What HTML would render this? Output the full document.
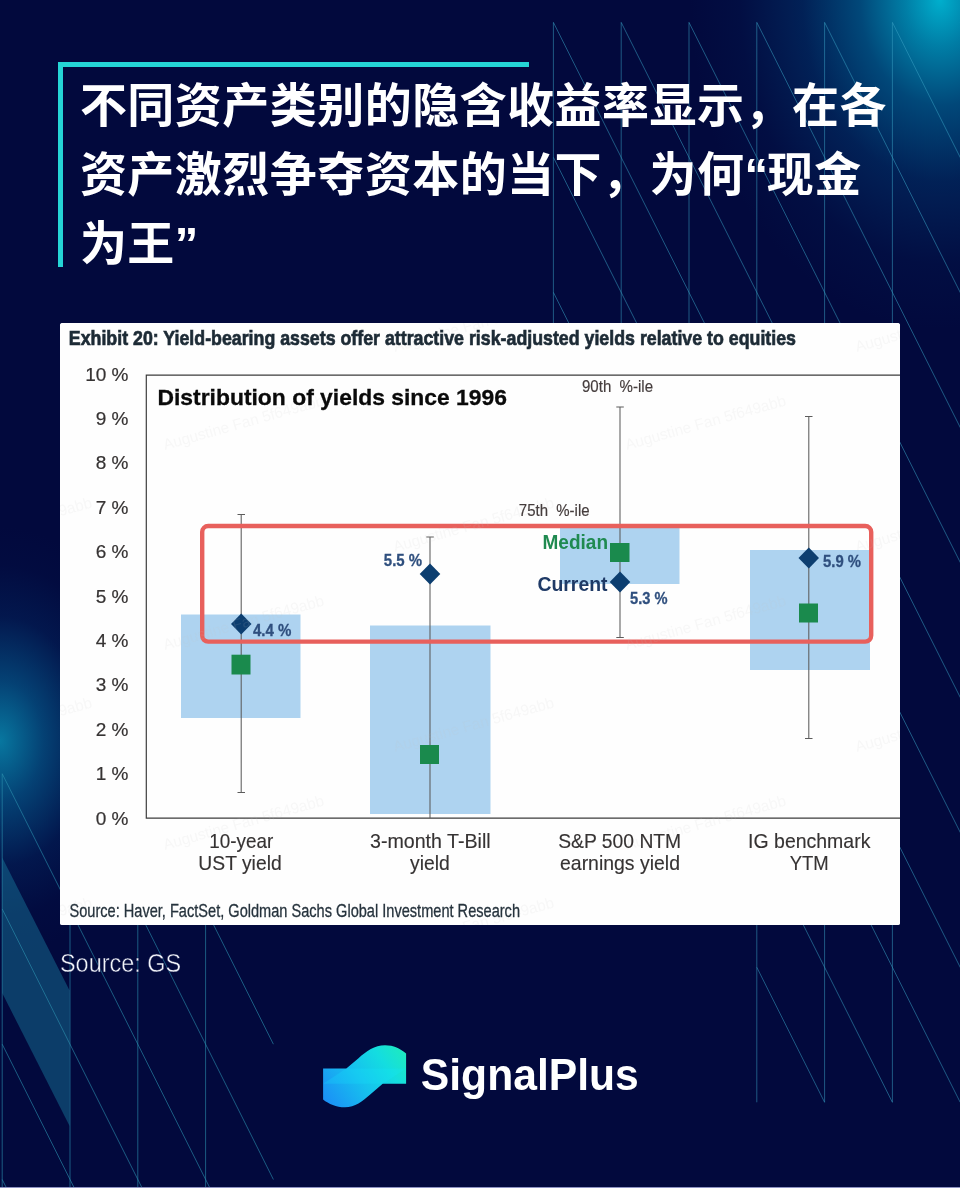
<!DOCTYPE html>
<html lang="zh-CN">
<head>
<meta charset="utf-8">
<title>SignalPlus</title>
<style>
html,body{margin:0;padding:0;}
body{width:960px;height:1188px;overflow:hidden;background:#02093d;position:relative;font-family:"Liberation Sans","Noto Sans CJK SC",sans-serif;}
#bg{position:absolute;left:0;top:0;width:960px;height:1188px;
 background:
  radial-gradient(ellipse 250px 330px at 940px 0px, rgba(0,178,208,.98) 0%, rgba(0,155,192,.8) 14%, rgba(0,125,172,.54) 32%, rgba(0,95,152,.28) 55%, rgba(0,65,125,.09) 80%, rgba(0,60,120,0) 100%),
  radial-gradient(ellipse 155px 215px at 0px 741px, rgba(8,125,165,.95) 0%, rgba(6,100,150,.62) 28%, rgba(4,60,120,.28) 58%, rgba(2,40,100,.08) 82%, rgba(2,30,90,0) 100%),
  #02093d;}
#lines{position:absolute;left:0;top:0;}
#title{position:absolute;left:58px;top:62px;width:471px;height:205px;border-top:5px solid #25d5d6;border-left:5px solid #25d5d6;box-sizing:border-box;}
#title h1{position:absolute;left:16.9px;top:3.5px;width:880px;margin:0;font-weight:700;font-size:47px;letter-spacing:.47px;line-height:69px;color:#fff;white-space:nowrap;font-family:"Liberation Sans","Noto Sans CJK SC",sans-serif;}
#card{position:absolute;left:60px;top:323px;width:840px;height:602px;background:#fff;border-radius:2.5px;overflow:hidden;}
#card svg{position:absolute;left:0;top:0;display:block;}
#logo{position:absolute;left:0;top:0;}
#bottomline{position:absolute;left:0;top:1187px;width:960px;height:1px;background:#8d92c2;}
</style>
</head>
<body>
<div id="bg"></div>
<svg id="lines" width="960" height="1188" viewBox="0 0 960 1188">
<path d="M553.4 22.4L553.4 600.0 M621.2 22.4L621.2 600.0 M689.0 22.4L689.0 600.0 M756.8 22.4L756.8 1102.3 M824.6 22.4L824.6 1102.3 M892.4 22.4L892.4 1102.3 M553.4 562.4L572.3 600.0 M756.8 967.3L824.6 1102.3 M553.4 427.4L640.1 600.0 M756.8 832.3L892.4 1102.3 M553.4 292.4L707.9 600.0 M756.8 697.3L960.2 1102.3 M553.4 157.4L775.7 600.0 M775.7 600.0L960.5 967.9 M553.4 22.4L843.5 600.0 M843.5 600.0L960.5 832.9 M621.2 22.4L911.3 600.0 M911.3 600.0L960.5 697.9 M689.0 22.4L960.5 562.9 M756.8 22.4L960.5 428.0 M824.6 22.4L960.5 293.0 M892.4 22.4L960.5 158.0 M960.2 22.4L960.5 23.0" fill="none" stroke="#389fc2" stroke-opacity=".54" stroke-width="1"/>
<polygon points="2.2,857.5 69.6,990.5 69.6,1126 2.2,993" fill="#1a86a6" fill-opacity=".42"/>
<path d="M2.2 773.7L2.2 1188.0 M70.0 900.0L70.0 1188.0 M137.8 900.0L137.8 1188.0 M205.6 900.0L205.6 1188.0 M205.6 773.7L273.4 909.0 M137.8 773.7L273.4 1044.2 M70.0 773.7L273.4 1179.5 M2.2 773.7L209.9 1188.0 M2.2 909.0L142.1 1188.0 M2.2 1044.2L74.3 1188.0 M2.2 1179.5L6.5 1188.0" fill="none" stroke="#2c8fae" stroke-opacity=".62" stroke-width="1"/>
</svg>
<div id="title"><h1>不同资产类别的隐含收益率显示，在各<br>资产激烈争夺资本的当下，为何<span style="margin-right:-1.7px">“</span>现金<br>为王”</h1></div>
<div id="card">
<svg width="840" height="602" viewBox="60 323 840 602" font-family="'Liberation Sans', sans-serif">
<rect x="60" y="323" width="840" height="602" fill="#fefefe"/>
<!-- blue boxes -->
<g fill="#aed3f0">
<rect x="181" y="614.5" width="119.5" height="103.5"/>
<rect x="370" y="625.5" width="120.5" height="188.5"/>
<rect x="560" y="527" width="119.5" height="57"/>
<rect x="750" y="550" width="120" height="120"/>
</g>
<!-- axes -->
<path d="M146.3 375V818.2M145.7 375.2H900M145.7 818.2H900" fill="none" stroke="#3d3d3d" stroke-width="1.2"/>
<!-- error bars -->
<g fill="none" stroke="#5c5c5c" stroke-width="1.05">
<path d="M241.2 514.5V792.5M237.5 514.5H245M237.5 792.5H245"/>
<path d="M430 537V818M426.3 537H433.8"/>
<path d="M620 407V637.5M616.3 407H623.8M616.3 637.5H623.8"/>
<path d="M808.8 416.5V738.5M805 416.5H812.5M805 738.5H812.5"/>
</g>
<!-- medians -->
<g fill="#1a8a4d">
<rect x="231.5" y="654.7" width="19" height="19.8"/>
<rect x="420" y="745" width="19" height="19"/>
<rect x="610" y="543" width="19.5" height="19"/>
<rect x="799" y="603.5" width="19" height="19"/>
</g>
<!-- current diamonds -->
<g fill="#0c3e70">
<path d="M241.2 613.5L251.5 624L241.2 634.5L231 624Z"/>
<path d="M430 563.5L440.3 574L430 584.5L419.7 574Z"/>
<path d="M620 571.5L630.3 582L620 592.5L609.7 582Z"/>
<path d="M808.8 547.5L819 558L808.8 568.5L798.5 558Z"/>
</g>
<!-- red highlight -->
<rect x="202.2" y="526" width="669" height="115.6" rx="6" ry="6" fill="none" stroke="#e8605c" stroke-width="4.4"/>
<!-- watermark -->
<g font-size="15.5" fill="#c4c4c4" fill-opacity=".12">
<text transform="translate(165 450) rotate(-15.7)" textLength="166" lengthAdjust="spacingAndGlyphs">Augustine Fan 5f649abb</text>
<text transform="translate(627 450) rotate(-15.7)" textLength="166" lengthAdjust="spacingAndGlyphs">Augustine Fan 5f649abb</text>
<text transform="translate(165 650) rotate(-15.7)" textLength="166" lengthAdjust="spacingAndGlyphs">Augustine Fan 5f649abb</text>
<text transform="translate(627 650) rotate(-15.7)" textLength="166" lengthAdjust="spacingAndGlyphs">Augustine Fan 5f649abb</text>
<text transform="translate(165 850) rotate(-15.7)" textLength="166" lengthAdjust="spacingAndGlyphs">Augustine Fan 5f649abb</text>
<text transform="translate(627 850) rotate(-15.7)" textLength="166" lengthAdjust="spacingAndGlyphs">Augustine Fan 5f649abb</text>
<text transform="translate(-67 352) rotate(-15.7)" textLength="166" lengthAdjust="spacingAndGlyphs">Augustine Fan 5f649abb</text>
<text transform="translate(395 352) rotate(-15.7)" textLength="166" lengthAdjust="spacingAndGlyphs">Augustine Fan 5f649abb</text>
<text transform="translate(857 352) rotate(-15.7)" textLength="166" lengthAdjust="spacingAndGlyphs">Augustine Fan 5f649abb</text>
<text transform="translate(-67 552) rotate(-15.7)" textLength="166" lengthAdjust="spacingAndGlyphs">Augustine Fan 5f649abb</text>
<text transform="translate(395 552) rotate(-15.7)" textLength="166" lengthAdjust="spacingAndGlyphs">Augustine Fan 5f649abb</text>
<text transform="translate(857 552) rotate(-15.7)" textLength="166" lengthAdjust="spacingAndGlyphs">Augustine Fan 5f649abb</text>
<text transform="translate(-67 752) rotate(-15.7)" textLength="166" lengthAdjust="spacingAndGlyphs">Augustine Fan 5f649abb</text>
<text transform="translate(395 752) rotate(-15.7)" textLength="166" lengthAdjust="spacingAndGlyphs">Augustine Fan 5f649abb</text>
<text transform="translate(857 752) rotate(-15.7)" textLength="166" lengthAdjust="spacingAndGlyphs">Augustine Fan 5f649abb</text>
<text transform="translate(-67 952) rotate(-15.7)" textLength="166" lengthAdjust="spacingAndGlyphs">Augustine Fan 5f649abb</text>
<text transform="translate(395 952) rotate(-15.7)" textLength="166" lengthAdjust="spacingAndGlyphs">Augustine Fan 5f649abb</text>
<text transform="translate(857 952) rotate(-15.7)" textLength="166" lengthAdjust="spacingAndGlyphs">Augustine Fan 5f649abb</text>
</g>
<!-- texts -->
<text x="68.8" y="344.7" font-size="21" font-weight="700" fill="#1d2b36" stroke="#1d2b36" stroke-width=".7" textLength="727.2" lengthAdjust="spacingAndGlyphs">Exhibit 20: Yield-bearing assets offer attractive risk-adjusted yields relative to equities</text>
<text x="157.5" y="404.8" font-size="22.8" font-weight="700" fill="#0a0a0a" stroke="#0a0a0a" stroke-width=".3" textLength="349.5" lengthAdjust="spacingAndGlyphs">Distribution of yields since 1996</text>
<g font-size="19" fill="#363333" stroke="#363333" stroke-width=".2" text-anchor="end" transform="translate(0 .2)">
<text x="128.5" y="380.4">10 %</text>
<text x="128.5" y="424.8">9 %</text>
<text x="128.5" y="469.2">8 %</text>
<text x="128.5" y="513.6">7 %</text>
<text x="128.5" y="558">6 %</text>
<text x="128.5" y="602.4">5 %</text>
<text x="128.5" y="646.8">4 %</text>
<text x="128.5" y="691.2">3 %</text>
<text x="128.5" y="735.6">2 %</text>
<text x="128.5" y="780">1 %</text>
<text x="128.5" y="824.4">0 %</text>
</g>
<g font-size="17" fill="#453d3d" stroke="#453d3d" stroke-width=".2">
<text x="582" y="392" textLength="71" lengthAdjust="spacingAndGlyphs" xml:space="preserve">90th  %-ile</text>
<text x="518.8" y="515.5" textLength="70.8" lengthAdjust="spacingAndGlyphs" xml:space="preserve">75th  %-ile</text>
</g>
<text x="542.5" y="548.8" font-size="20.5" font-weight="700" fill="#1f8a50" textLength="65.5" lengthAdjust="spacingAndGlyphs">Median</text>
<text x="537.5" y="591.3" font-size="20.5" font-weight="700" fill="#1f3a66" textLength="70" lengthAdjust="spacingAndGlyphs">Current</text>
<g font-size="17.2" font-weight="700" fill="#2f4f7e" stroke="#2f4f7e" stroke-width=".3">
<text x="253" y="636" textLength="38.5" lengthAdjust="spacingAndGlyphs">4.4 %</text>
<text x="383.8" y="566.3" textLength="38.3" lengthAdjust="spacingAndGlyphs">5.5 %</text>
<text x="630" y="603.8" textLength="37.5" lengthAdjust="spacingAndGlyphs">5.3 %</text>
<text x="823" y="567" textLength="38" lengthAdjust="spacingAndGlyphs">5.9 %</text>
</g>
<g font-size="21" fill="#363333" stroke="#363333" stroke-width=".15">
<text x="209.3" y="848.2" textLength="64" lengthAdjust="spacingAndGlyphs">10-year</text>
<text x="198.3" y="870" textLength="83.4" lengthAdjust="spacingAndGlyphs">UST yield</text>
<text x="370" y="848.2" textLength="120.7" lengthAdjust="spacingAndGlyphs">3-month T-Bill</text>
<text x="410.1" y="870" textLength="39.8" lengthAdjust="spacingAndGlyphs">yield</text>
<text x="558.2" y="848.2" textLength="123" lengthAdjust="spacingAndGlyphs">S&amp;P 500 NTM</text>
<text x="560" y="870" textLength="120" lengthAdjust="spacingAndGlyphs">earnings yield</text>
<text x="748.1" y="848.2" textLength="122.3" lengthAdjust="spacingAndGlyphs">IG benchmark</text>
<text x="789.7" y="870" textLength="39" lengthAdjust="spacingAndGlyphs">YTM</text>
</g>
<text x="69.5" y="917" font-size="18.5" fill="#26333d" stroke="#26333d" stroke-width=".3" textLength="450.5" lengthAdjust="spacingAndGlyphs">Source: Haver, FactSet, Goldman Sachs Global Investment Research</text>
</svg>

</div>
<svg id="logo" width="960" height="1188" viewBox="0 0 960 1188" font-family="'Liberation Sans', sans-serif">
<defs>
<linearGradient id="lg" x1="326" y1="1104" x2="404" y2="1050" gradientUnits="userSpaceOnUse">
<stop offset="0" stop-color="#1b8ff6"/><stop offset=".45" stop-color="#16c2ee"/><stop offset=".75" stop-color="#14dde0"/><stop offset="1" stop-color="#1eeabf"/>
</linearGradient>
</defs>
<path d="M323.100 1068.400H346.300L358.500 1058.200C366.500 1051.300 374.500 1045.300 385 1045.300C393.500 1045.300 400.500 1048.800 406.100 1053.600V1083.800H382.700L370.500 1094.200C362.500 1101.200 355 1107.300 345 1107.300C336 1107.300 328.800 1104 323.100 1099.500Z" fill="url(#lg)"/>
<path d="M323.100 1083.800L346.300 1068.400H406.100L382.700 1083.800Z" fill="#19e6ff" fill-opacity=".22"/>
<text x="60" y="971.600" font-size="26" fill="#f2f4fa" stroke="#02093d" stroke-width=".45" textLength="121" lengthAdjust="spacingAndGlyphs">Source: GS</text>
<text x="420.800" y="1089.500" font-size="44" font-weight="700" fill="#fff" textLength="218" lengthAdjust="spacingAndGlyphs">SignalPlus</text>
</svg>

<div id="bottomline"></div>
</body>
</html>
